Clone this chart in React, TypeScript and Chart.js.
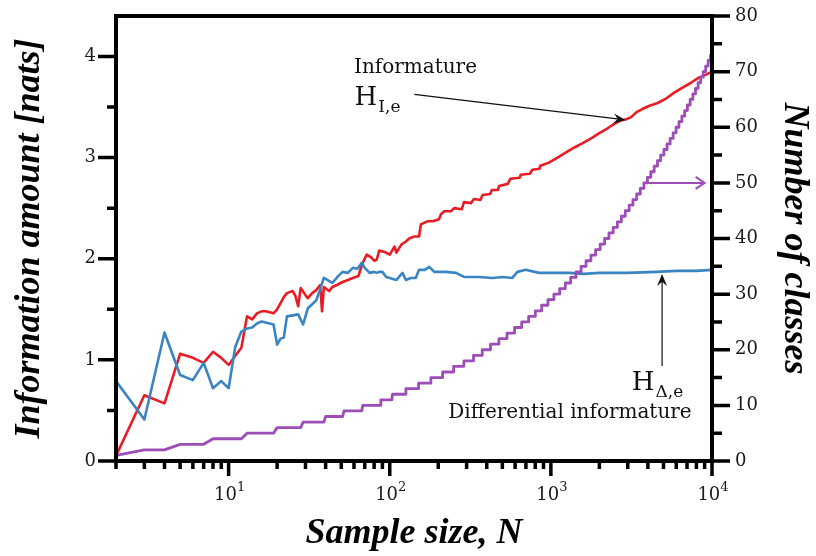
import React, { useEffect, useRef } from 'react';
import { Chart, registerables } from 'chart.js';

Chart.register(...registerables);

// ---------- axis ranges & ticks ----------
const N_MIN = 2;
const N_MAX = 10000;
const H_MAX = 4.4;
const K_MAX = 80;

const X_TICKS = [
  2, 3, 4, 5, 6, 7, 8, 9,
  10, 20, 30, 40, 50, 60, 70, 80, 90,
  100, 200, 300, 400, 500, 600, 700, 800, 900,
  1000, 2000, 3000, 4000, 5000, 6000, 7000, 8000, 9000,
  10000,
];
// decade ticks: base "10" with exponent
const X_TICK_EXPONENTS: Record<number, string> = { 10: '1', 100: '2', 1000: '3', 10000: '4' };

const H_TICKS = [0, 0.5, 1, 1.5, 2, 2.5, 3, 3.5, 4];
const H_TICK_LABELS: Record<number, string> = { 0: '0', 1: '1', 2: '2', 3: '3', 4: '4' };

const K_TICKS = [0, 5, 10, 15, 20, 25, 30, 35, 40, 45, 50, 55, 60, 65, 70, 75, 80];
const K_TICK_LABELS: Record<number, string> = {
  0: '0', 10: '10', 20: '20', 30: '30', 40: '40', 50: '50', 60: '60', 70: '70', 80: '80',
};

// ---------- series ----------
// Informature H_I,e  [N, nats]
const INFORMATURE: [number, number][] = [
  [2, 0.05], [3, 0.65], [4, 0.57], [5, 1.06], [6, 1.02], [7, 0.97], [8, 1.08], [9, 1.02],
  [10, 0.95], [11, 1.04], [12, 1.12], [13, 1.43], [14, 1.40], [15, 1.46], [16, 1.48], [17, 1.48],
  [19, 1.46], [20, 1.50], [21, 1.56], [22, 1.62], [23, 1.66], [25, 1.68], [26, 1.63], [27, 1.53],
  [28, 1.71], [30, 1.64], [31, 1.61], [33, 1.66], [35, 1.69], [37, 1.74], [38, 1.48], [39, 1.72],
  [42, 1.68], [44, 1.72], [47, 1.74], [51, 1.77], [55, 1.79], [59, 1.81], [64, 1.83], [66, 1.90],
  [68, 1.96], [72, 2.04], [77, 2.01], [80, 1.98], [83, 1.99], [86, 2.08], [92, 2.07], [100, 2.04],
  [107, 2.12], [110, 2.06], [118, 2.14], [126, 2.17], [132, 2.20], [142, 2.22], [152, 2.22],
  [156, 2.34], [171, 2.37], [185, 2.37], [202, 2.39], [208, 2.44], [218, 2.47], [240, 2.47],
  [251, 2.50], [280, 2.49], [289, 2.56], [320, 2.55], [333, 2.59], [365, 2.58], [377, 2.63],
  [420, 2.64], [430, 2.68], [470, 2.68], [477, 2.72], [540, 2.74], [560, 2.79], [640, 2.80],
  [650, 2.83], [740, 2.84], [767, 2.88], [850, 2.89], [860, 2.92], [973, 2.95], [1100, 3.00],
  [1235, 3.05], [1400, 3.10], [1566, 3.14], [1780, 3.19], [1986, 3.24], [2250, 3.29], [2519, 3.34],
  [2750, 3.37], [2950, 3.38], [3150, 3.40], [3400, 3.45], [3700, 3.48], [4055, 3.51], [4600, 3.54],
  [5143, 3.58], [5800, 3.64], [6523, 3.69], [7400, 3.74], [8272, 3.79], [9200, 3.82], [10000, 3.85],
];

// Differential informature H_Δ,e  [N, nats]
const DIFF_INFORMATURE: [number, number][] = [
  [2, 0.79], [3, 0.41], [4, 1.27], [5, 0.85], [6, 0.80], [7, 0.97], [8, 0.72], [9, 0.79],
  [10, 0.72], [11, 1.13], [12, 1.28], [13, 1.31], [14, 1.32], [15, 1.36], [16, 1.38], [18, 1.36],
  [19, 1.35], [20, 1.15], [21, 1.21], [22, 1.22], [23, 1.43], [25, 1.44], [27, 1.45], [29, 1.35],
  [31, 1.51], [33, 1.55], [35, 1.59], [37, 1.70], [39, 1.81], [42, 1.78], [44, 1.76], [48, 1.83],
  [51, 1.87], [55, 1.86], [59, 1.91], [63, 1.90], [67, 1.96], [70, 1.91], [75, 1.86], [80, 1.87],
  [83, 1.86], [86, 1.87], [90, 1.87], [95, 1.82], [100, 1.81], [110, 1.79], [120, 1.86],
  [126, 1.79], [135, 1.81], [145, 1.81], [152, 1.89], [165, 1.89], [176, 1.92], [189, 1.87],
  [223, 1.87], [258, 1.86], [289, 1.82], [359, 1.82], [434, 1.81], [500, 1.82], [577, 1.81],
  [620, 1.87], [698, 1.89], [844, 1.86], [1071, 1.86], [1295, 1.86], [1600, 1.85], [2000, 1.86],
  [3000, 1.86], [4500, 1.87], [6000, 1.88], [8000, 1.88], [10000, 1.89],
];

// Number of classes: sample size N at which class count k = index + 1 is first reached
const CLASS_START_N = [
  2, 3, 5, 8, 13, 20, 29, 40, 52, 68, 88, 104, 126, 151, 180, 213, 249, 289, 331, 375,
  422, 476, 535, 595, 659, 728, 801, 877, 959, 1044, 1134, 1229, 1327, 1431, 1540, 1653,
  1772, 1895, 2023, 2155, 2294, 2436, 2585, 2737, 2896, 3061, 3232, 3408, 3589, 3778, 3972,
  4171, 4376, 4588, 4800, 5031, 5260, 5497, 5738, 5985, 6236, 6500, 6766, 7037, 7316, 7607,
  7899, 8199, 8507, 8818, 9138, 9464, 9800,
];

const RED = 'rgb(232, 28, 36)';
const BLUE = 'rgb(58, 132, 194)';
const PURPLE = 'rgb(156, 78, 182)';

const SERIF = '"DejaVu Serif", serif';
const TITLE_FONT = { family: '"Liberation Serif", serif', size: 36, style: 'italic' as const, weight: 'bold' as const };
const TICK_FONT = { family: SERIF, size: 18 };
const TICK_COLOR = '#1a1a1a';

function classSteps() {
  const pts: { x: number; y: number }[] = [];
  CLASS_START_N.forEach((n, i) => {
    const k = i + 1;
    pts.push({ x: n, y: k });
    const end = i + 1 < CLASS_START_N.length ? CLASS_START_N[i + 1] - 1 : N_MAX;
    if (end > n) pts.push({ x: end, y: k });
  });
  return pts;
}

const isPow10 = (v: number) => Math.abs(Math.log10(v) - Math.round(Math.log10(v))) < 1e-9;

function arrowHead(ctx: CanvasRenderingContext2D, x: number, y: number, ang: number, len: number, half: number) {
  ctx.save();
  ctx.translate(x, y);
  ctx.rotate(ang);
  ctx.beginPath();
  ctx.moveTo(0, 0);
  ctx.lineTo(-len, -half);
  ctx.lineTo(-len * 0.65, 0);
  ctx.lineTo(-len, half);
  ctx.closePath();
  ctx.fill();
  ctx.restore();
}

function subscripted(ctx: CanvasRenderingContext2D, main: string, sub: string, x: number, y: number) {
  ctx.font = `26px ${SERIF}`;
  ctx.fillText(main, x, y);
  const w = ctx.measureText(main).width;
  ctx.font = `17px ${SERIF}`;
  ctx.fillText(sub, x + w + 1, y + 7);
}

// fixed box sizes so that the plot area sits where the reference has it
const fitTo = (dim: 'width' | 'height', size: number) => (s: any) => {
  s[dim] = size;
  s.paddingTop = 0;
  s.paddingBottom = 0;
  s.paddingLeft = 0;
  s.paddingRight = 0;
};

const overlay = {
  id: 'overlay',
  afterDatasetsDraw(chart: any) {
    const { ctx, chartArea: a, scales } = chart;
    const sx = scales.x, sy = scales.y, sk = scales.y1;
    ctx.save();

    // frame
    ctx.strokeStyle = '#000';
    ctx.lineWidth = 4;
    ctx.lineJoin = 'miter';
    ctx.strokeRect(a.left, a.top, a.right - a.left, a.bottom - a.top);

    // tick marks
    ctx.lineWidth = 3.5;
    ctx.lineCap = 'butt';
    ctx.beginPath();
    X_TICKS.forEach((v) => {
      const p = sx.getPixelForValue(v);
      ctx.moveTo(p, a.bottom);
      ctx.lineTo(p, a.bottom + (isPow10(v) ? 15 : 8));
    });
    H_TICKS.forEach((v) => {
      const p = sy.getPixelForValue(v);
      ctx.moveTo(a.left, p);
      ctx.lineTo(a.left - (H_TICK_LABELS[v] !== undefined ? 18 : 9), p);
    });
    K_TICKS.forEach((v) => {
      const p = sk.getPixelForValue(v);
      ctx.moveTo(a.right, p);
      ctx.lineTo(a.right + (K_TICK_LABELS[v] !== undefined ? 18 : 10), p);
    });
    ctx.stroke();

    // x decade labels: 10 with superscript exponent
    ctx.fillStyle = TICK_COLOR;
    ctx.textBaseline = 'alphabetic';
    ctx.textAlign = 'left';
    X_TICKS.forEach((v) => {
      const e = X_TICK_EXPONENTS[v];
      if (e === undefined) return;
      const p = sx.getPixelForValue(v);
      ctx.font = `18px ${SERIF}`;
      const wb = ctx.measureText('10').width;
      ctx.font = `13px ${SERIF}`;
      const we = ctx.measureText(e).width;
      const x0 = p - (wb + we) / 2 + 1;
      ctx.font = `18px ${SERIF}`;
      ctx.fillText('10', x0, a.bottom + 39);
      ctx.font = `13px ${SERIF}`;
      ctx.fillText(e, x0 + wb, a.bottom + 30);
    });

    // annotations
    ctx.fillStyle = '#111';
    ctx.strokeStyle = '#111';
    ctx.textAlign = 'left';
    ctx.textBaseline = 'alphabetic';
    ctx.font = `20px ${SERIF}`;
    ctx.fillText('Informature', sx.getPixelForValue(60), sy.getPixelForValue(3.84));
    subscripted(ctx, 'H', 'I,e', sx.getPixelForValue(60.5), sy.getPixelForValue(3.52));

    // arrow to informature curve
    const ax0 = sx.getPixelForValue(142), ay0 = sy.getPixelForValue(3.626);
    const ax1 = sx.getPixelForValue(2904), ay1 = sy.getPixelForValue(3.372);
    ctx.lineWidth = 1.2;
    ctx.beginPath();
    ctx.moveTo(ax0, ay0);
    ctx.lineTo(ax1 - 4, ay1 - 0.5);
    ctx.stroke();
    arrowHead(ctx, ax1, ay1, Math.atan2(ay1 - ay0, ax1 - ax0), 12, 5);

    // differential informature label + arrow
    subscripted(ctx, 'H', 'Δ,e', sx.getPixelForValue(3180), sy.getPixelForValue(0.70));
    ctx.font = `20px ${SERIF}`;
    ctx.textAlign = 'right';
    ctx.fillText('Differential informature', sx.getPixelForValue(7480), sy.getPixelForValue(0.425));
    const bx = sx.getPixelForValue(4900);
    const by0 = sy.getPixelForValue(0.94), by1 = sy.getPixelForValue(1.85);
    ctx.lineWidth = 1.2;
    ctx.beginPath();
    ctx.moveTo(bx, by0);
    ctx.lineTo(bx, by1 + 4);
    ctx.stroke();
    arrowHead(ctx, bx, by1, -Math.PI / 2, 12, 5);

    // purple arrow towards right axis
    const px0 = sx.getPixelForValue(3800), px1 = sx.getPixelForValue(9000);
    const pyk = sk.getPixelForValue(50);
    ctx.strokeStyle = PURPLE;
    ctx.lineWidth = 2;
    ctx.beginPath();
    ctx.moveTo(px0, pyk);
    ctx.lineTo(px1, pyk);
    ctx.moveTo(px1 - 9, pyk - 6);
    ctx.lineTo(px1, pyk);
    ctx.lineTo(px1 - 9, pyk + 6);
    ctx.stroke();

    ctx.restore();
  },
};

export default function App() {
  const ref = useRef<HTMLCanvasElement | null>(null);

  useEffect(() => {
    if (!ref.current) return;
    const chart = new Chart(ref.current, {
      type: 'line',
      data: {
        datasets: [
          {
            label: 'Number of classes',
            data: classSteps(),
            yAxisID: 'y1',
            borderColor: PURPLE,
            borderWidth: 2.8,
            order: 0,
          },
          {
            label: 'Differential informature',
            data: DIFF_INFORMATURE.map(([x, y]) => ({ x, y })),
            yAxisID: 'y',
            borderColor: BLUE,
            borderWidth: 2.6,
            order: 1,
          },
          {
            label: 'Informature',
            data: INFORMATURE.map(([x, y]) => ({ x, y })),
            yAxisID: 'y',
            borderColor: RED,
            borderWidth: 2.6,
            order: 2,
          },
        ],
      },
      options: {
        animation: false,
        responsive: true,
        maintainAspectRatio: false,
        layout: { autoPadding: false, padding: { top: 16, left: 0, right: 0, bottom: 0 } },
        elements: {
          point: { radius: 0, hoverRadius: 0 },
          line: { tension: 0, borderJoinStyle: 'round', borderCapStyle: 'round', fill: false },
        },
        plugins: { legend: { display: false }, tooltip: { enabled: false } },
        events: [],
        scales: {
          x: {
            type: 'logarithmic',
            min: N_MIN,
            max: N_MAX,
            grid: { display: false, drawTicks: false },
            border: { display: false },
            afterBuildTicks: (s: any) => { s.ticks = X_TICKS.map((value) => ({ value })); },
            afterFit: fitTo('height', 95),
            ticks: {
              autoSkip: false,
              maxRotation: 0,
              minRotation: 0,
              padding: 0,
              font: TICK_FONT,
              callback: () => '',
            },
            title: {
              display: true,
              text: 'Sample size, N',
              color: '#000',
              font: TITLE_FONT,
              padding: { top: 0, bottom: 1 },
            },
          },
          y: {
            type: 'linear',
            position: 'left',
            min: 0,
            max: H_MAX,
            grid: { display: false, drawTicks: false },
            border: { display: false },
            afterBuildTicks: (s: any) => { s.ticks = H_TICKS.map((value) => ({ value })); },
            afterFit: fitTo('width', 116),
            ticks: {
              autoSkip: false,
              padding: 20,
              color: TICK_COLOR,
              font: TICK_FONT,
              callback: (v: any) => H_TICK_LABELS[v as number] ?? '',
            },
            title: {
              display: true,
              text: 'Information amount [nats]',
              color: '#000',
              font: TITLE_FONT,
              padding: { top: 8, bottom: 0 },
            },
          },
          y1: {
            type: 'linear',
            position: 'right',
            min: 0,
            max: K_MAX,
            grid: { display: false, drawTicks: false },
            border: { display: false },
            afterBuildTicks: (s: any) => { s.ticks = K_TICKS.map((value) => ({ value })); },
            afterFit: fitTo('width', 104),
            ticks: {
              autoSkip: false,
              padding: 23,
              color: TICK_COLOR,
              font: TICK_FONT,
              callback: (v: any) => K_TICK_LABELS[v as number] ?? '',
            },
            title: {
              display: true,
              text: 'Number of classes',
              color: '#000',
              font: TITLE_FONT,
              padding: { top: 0, bottom: 0 },
            },
          },
        },
      },
      plugins: [overlay],
    });
    return () => chart.destroy();
  }, []);

  return (
    <div style={{ position: 'absolute', left: 0, top: 0, width: 816, height: 556, background: '#fff' }}>
      <canvas ref={ref} />
    </div>
  );
}
